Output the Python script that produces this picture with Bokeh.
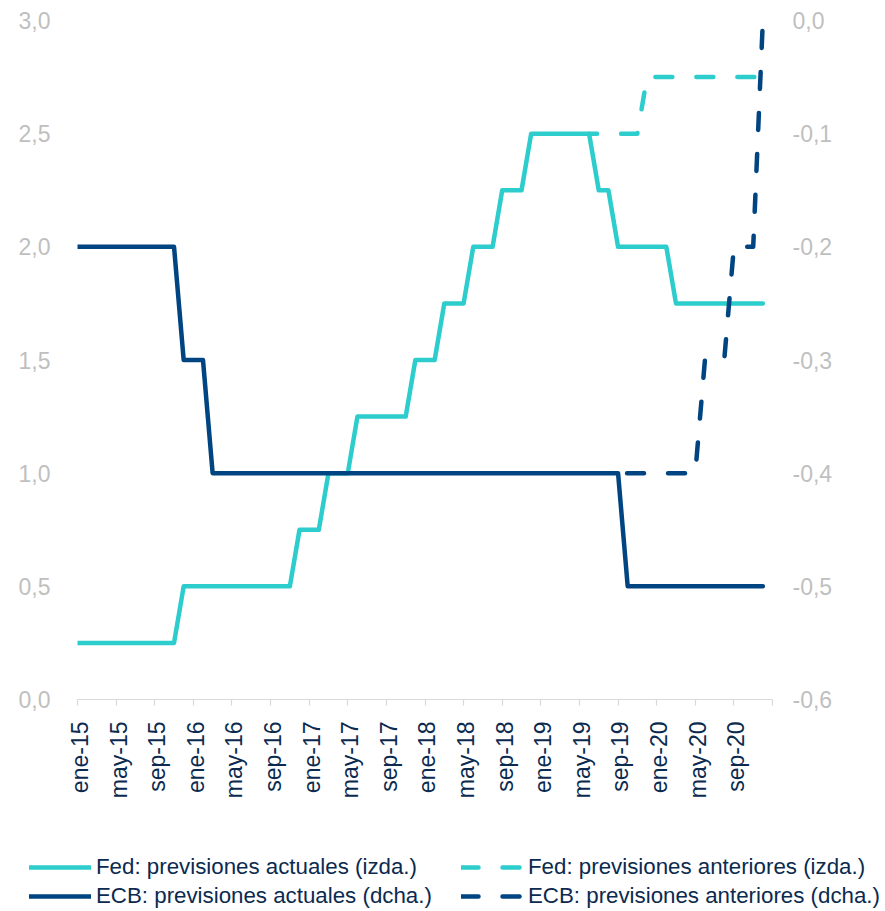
import math
import numpy as np
from bokeh.plotting import figure
from bokeh.layouts import column, row
from bokeh.models import (Range1d, LinearAxis, FixedTicker, CustomJSTickFormatter,
                          Legend, LegendItem, ColumnDataSource)
from bokeh.embed import file_html
from bokeh.resources import INLINE

# ---- data (monthly, ene-15 .. dic-20) ----
x_tick_labels = ["ene-15", "may-15", "sep-15", "ene-16", "may-16", "sep-16",
                 "ene-17", "may-17", "sep-17", "ene-18", "may-18", "sep-18",
                 "ene-19", "may-19", "sep-19", "ene-20", "may-20", "sep-20"]

fed_actual = [
    0.25, 0.25, 0.25, 0.25, 0.25, 0.25, 0.25, 0.25, 0.25, 0.25, 0.25, 0.5,   # 2015
    0.5, 0.5, 0.5, 0.5, 0.5, 0.5, 0.5, 0.5, 0.5, 0.5, 0.5, 0.75,             # 2016
    0.75, 0.75, 1.0, 1.0, 1.0, 1.25, 1.25, 1.25, 1.25, 1.25, 1.25, 1.5,      # 2017
    1.5, 1.5, 1.75, 1.75, 1.75, 2.0, 2.0, 2.0, 2.25, 2.25, 2.25, 2.5,        # 2018
    2.5, 2.5, 2.5, 2.5, 2.5, 2.5, 2.25, 2.25, 2.0, 2.0, 2.0, 2.0,            # 2019
    2.0, 2.0, 1.75, 1.75, 1.75, 1.75, 1.75, 1.75, 1.75, 1.75, 1.75, 1.75,    # 2020
]
fed_previous = [
    None, None, None, None, None, None, None, None, None, None, None, None,
    None, None, None, None, None, None, None, None, None, None, None, None,
    None, None, None, None, None, None, None, None, None, None, None, None,
    None, None, None, None, None, None, None, None, None, None, None, None,
    None, None, None, None, None, 2.5, 2.5, 2.5, 2.5, 2.5, 2.5, 2.75,
    2.75, 2.75, 2.75, 2.75, 2.75, 2.75, 2.75, 2.75, 2.75, 2.75, 2.75, 2.75,
]
ecb_actual = [
    -0.2, -0.2, -0.2, -0.2, -0.2, -0.2, -0.2, -0.2, -0.2, -0.2, -0.2, -0.3,
    -0.3, -0.3, -0.4, -0.4, -0.4, -0.4, -0.4, -0.4, -0.4, -0.4, -0.4, -0.4,
    -0.4, -0.4, -0.4, -0.4, -0.4, -0.4, -0.4, -0.4, -0.4, -0.4, -0.4, -0.4,
    -0.4, -0.4, -0.4, -0.4, -0.4, -0.4, -0.4, -0.4, -0.4, -0.4, -0.4, -0.4,
    -0.4, -0.4, -0.4, -0.4, -0.4, -0.4, -0.4, -0.4, -0.4, -0.5, -0.5, -0.5,
    -0.5, -0.5, -0.5, -0.5, -0.5, -0.5, -0.5, -0.5, -0.5, -0.5, -0.5, -0.5,
]
ecb_previous = [
    None, None, None, None, None, None, None, None, None, None, None, None,
    None, None, None, None, None, None, None, None, None, None, None, None,
    None, None, None, None, None, None, None, None, None, None, None, None,
    None, None, None, None, None, None, None, None, None, None, None, None,
    None, None, None, None, None, None, None, None, -0.4, -0.4, -0.4, -0.4,
    -0.4, -0.4, -0.4, -0.4, -0.4, -0.3, -0.3, -0.3, -0.2, -0.2, -0.2, 0.0,
]
left_ticks = [0.0, 0.5, 1.0, 1.5, 2.0, 2.5, 3.0]
right_ticks = [-0.6, -0.5, -0.4, -0.3, -0.2, -0.1, 0.0]

labels_legend = ["Fed: previsiones actuales (izda.)", "ECB: previsiones actuales (dcha.)",
                 "Fed: previsiones anteriores (izda.)", "ECB: previsiones anteriores (dcha.)"]

# ---- styling ----
CYAN = "#2DCCCD"
NAVY = "#004481"
TEXT_NAVY = "#0B2A4F"
GRAY_TXT = "#BFBFBF"
AXIS_GRAY = "#D9D9D9"
FONT = "Liberation Sans"
W = 877
H_MAIN = 840
H_LEG = 71

n = len(fed_actual)
month = list(range(n))
def arr(v):
    return np.array([np.nan if a is None else a for a in v], dtype=float)

src = ColumnDataSource(dict(m=month, fed=arr(fed_actual), fedp=arr(fed_previous),
                            ecb=arr(ecb_actual), ecbp=arr(ecb_previous)))

p = figure(width=W, height=H_MAIN, output_backend="svg", toolbar_location=None,
           x_range=Range1d(0, 72), y_range=Range1d(0, 3.0),
           min_border_left=77, min_border_right=105, min_border_top=20,
           min_border_bottom=H_MAIN - 699)
p.outline_line_color = None
p.grid.visible = False
p.background_fill_color = "white"
p.border_fill_color = "white"

p.extra_y_ranges = {"ecb": Range1d(-0.6, 0.0)}

yfmt = CustomJSTickFormatter(code="return tick.toFixed(1).replace('.', ',').replace('-0,0', '0,0');")

# left axis
ly = p.yaxis[0]
ly.ticker = FixedTicker(ticks=left_ticks)
ly.formatter = yfmt
ly.axis_line_color = None
ly.major_tick_line_color = None
ly.minor_tick_line_color = None
ly.major_tick_out = 0
ly.major_label_standoff = 27
ly.major_label_text_color = GRAY_TXT
ly.major_label_text_font = FONT
ly.major_label_text_font_size = "23px"

# right axis
ry = LinearAxis(y_range_name="ecb", ticker=FixedTicker(ticks=right_ticks), formatter=yfmt)
ry.axis_line_color = None
ry.major_tick_line_color = None
ry.minor_tick_line_color = None
ry.major_tick_out = 0
ry.major_label_standoff = 20
ry.major_label_text_color = GRAY_TXT
ry.major_label_text_font = FONT
ry.major_label_text_font_size = "23px"
p.add_layout(ry, "right")

# x axis
shift = 0.25
tick_pos = [4 * i for i in range(len(x_tick_labels) + 1)]
label_pos = [t + shift for t in tick_pos[:-1]]
xa = p.xaxis[0]
xa.ticker = FixedTicker(ticks=label_pos, minor_ticks=tick_pos)
xa.formatter = CustomJSTickFormatter(args=dict(labels=x_tick_labels, shift=shift),
    code="const i = Math.round((tick - shift) / 4); return (i >= 0 && i < labels.length) ? labels[i] : '';")
xa.axis_line_color = AXIS_GRAY
xa.axis_line_width = 1.2
xa.major_tick_line_color = None
xa.major_tick_out = 0
xa.major_tick_in = 0
xa.minor_tick_line_color = AXIS_GRAY
xa.minor_tick_line_width = 1.2
xa.minor_tick_out = 6
xa.minor_tick_in = 0
xa.major_label_orientation = math.pi / 2
xa.major_label_standoff = 16
xa.major_label_text_color = TEXT_NAVY
xa.major_label_text_font = FONT
xa.major_label_text_font_size = "23px"

LW = 4.5
DASH = "17 24"
line_styles = [dict(line_color=CYAN), dict(line_color=NAVY),
               dict(line_color=CYAN, line_dash=DASH), dict(line_color=NAVY, line_dash=DASH)]

p.line("m", "fed", source=src, line_color=CYAN, line_width=LW,
       line_cap="round", line_join="round")
p.line("m", "fedp", source=src, line_color=CYAN, line_width=LW,
       line_dash=DASH, line_dash_offset=9, line_cap="round", line_join="round")
p.line("m", "ecb", source=src, y_range_name="ecb", line_color=NAVY, line_width=LW,
       line_cap="round", line_join="round")
p.line("m", "ecbp", source=src, y_range_name="ecb", line_color=NAVY, line_width=LW,
       line_dash=DASH, line_dash_offset=32, line_cap="round", line_join="round")

# ---- legend strip (separate figure below, legend inside its frame) ----
lf = figure(width=885, height=H_LEG, output_backend="svg", toolbar_location=None,
            x_range=Range1d(0, 1), y_range=Range1d(0, 1),
            x_axis_type=None, y_axis_type=None,
            min_border_left=0, min_border_right=0, min_border_top=0, min_border_bottom=0)
lf.outline_line_color = None
lf.grid.visible = False
lf.background_fill_color = "white"
lf.border_fill_color = "white"
dummy = ColumnDataSource(dict(x=[np.nan], y=[np.nan]))
items = []
for lab, st in zip(labels_legend, line_styles):
    r = lf.line("x", "y", source=dummy, line_width=LW, line_cap="round", **st)
    items.append(LegendItem(label=lab, renderers=[r]))

legend = Legend(items=items, location=(29, 2), orientation="vertical", nrows=2,
                glyph_width=62, glyph_height=24, label_height=24, label_width=362,
                spacing=3, label_standoff=5, padding=0, margin=0,
                border_line_color=None, background_fill_alpha=0,
                label_text_font=FONT, label_text_font_size="22.3px",
                label_text_color=TEXT_NAVY)
lf.add_layout(legend, "center")

layout = column(p, row(lf, spacing=0), spacing=0)
open("out.html", "w").write(file_html(layout, INLINE))
